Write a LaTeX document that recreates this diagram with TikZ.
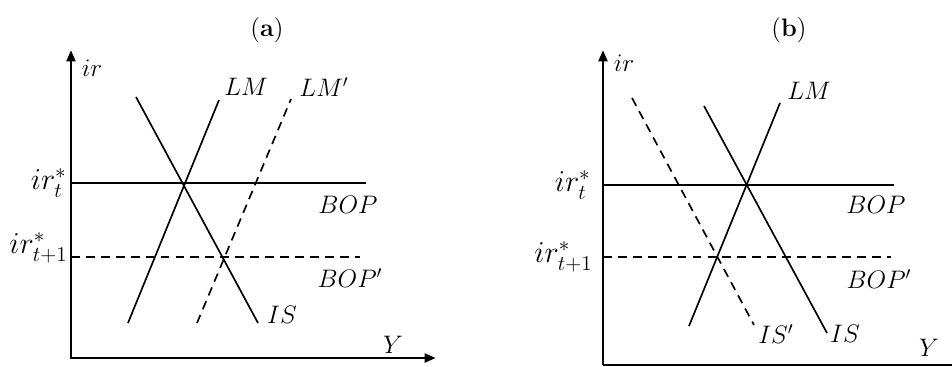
\documentclass[tikz,border=0pt]{standalone}
\usetikzlibrary{arrows.meta, positioning}

\begin{document}
\begin{tikzpicture}[
    x=0.02cm, y=-0.02cm,
    >={Triangle[length=6.5pt,width=5pt]},
    axis/.style={line width=1.6pt},
    curve/.style={line width=0.95pt},
    shifted/.style={curve, dash pattern=on 5pt off 3.5pt},
    lbl/.style={font=\fontsize{14.4}{17}\selectfont, inner sep=0pt},
    level/.style={lbl, font=\fontsize{17.28}{20}\selectfont, anchor=base east},
    title/.style={font=\fontsize{14.4}{17}\selectfont}
]
\useasboundingbox (0,0) rectangle (952,367);

% Panel (a)
\node[title] (ta) at (267,30) {(\textbf{a})};

\coordinate (a0) at (71,358);
\coordinate (ay) at (71,50);
\coordinate (ax) at (436,358);
\draw[axis, <->] (ay) -- (a0) -- (ax);

\coordinate (abop1) at (71,183);
\coordinate (abop2) at (366,183);
\coordinate (abopp1) at (71,257);
\coordinate (abopp2) at (360,257);
\coordinate (ais1) at (136,97);
\coordinate (ais2) at (258,323);
\coordinate (alm1) at (128,323);
\coordinate (alm2) at (219,100);
\coordinate (almp1) at (197,323);
\coordinate (almp2) at (291,99);

\draw[curve] (abop1) -- (abop2);
\draw[shifted] (abopp1) -- (abopp2);
\draw[curve] (ais1) -- (ais2);
\draw[curve] (alm1) -- (alm2);
\draw[shifted] (almp1) -- (almp2);

\node[lbl] (air) at (92,68) {$ir$};
\node[lbl] (ay-l) at (393,345) {$Y$};
\node[level] (airt) at (67,190) {$ir_t^*$};
\node[level] (airt1) at (68,254) {$ir_{t+1}^*$};
\node[lbl] (alm-l) at (246,87) {$LM$};
\node[lbl] (almp-l) at (324,87) {$LM'$};
\node[lbl] (abop-l) at (348,205) {$BOP$};
\node[lbl] (abopp-l) at (350,278) {$BOP'$};
\node[lbl] (ais-l) at (282,315) {$IS$};

% Panel (b)
\node[title] (tb) at (789,30) {(\textbf{b})};

\coordinate (b0) at (603,365);
\coordinate (by) at (603,50);
\coordinate (bx) at (952,365);
\draw[axis, ->] (b0) -- (by);
\draw[axis] (b0) -- (bx);

\coordinate (bbop1) at (603,185);
\coordinate (bbop2) at (894,185);
\coordinate (bbopp1) at (603,257);
\coordinate (bbopp2) at (891,257);
\coordinate (blm1) at (689,326);
\coordinate (blm2) at (780,103);
\coordinate (bis1) at (704,106);
\coordinate (bis2) at (827,333);
\coordinate (bisp1) at (632,98);
\coordinate (bisp2) at (754,325);

\draw[curve] (bbop1) -- (bbop2);
\draw[shifted] (bbopp1) -- (bbopp2);
\draw[curve] (blm1) -- (blm2);
\draw[curve] (bis1) -- (bis2);
\draw[shifted] (bisp1) -- (bisp2);

\node[lbl] (bir) at (624,63) {$ir$};
\node[lbl] (by-l) at (929,348) {$Y$};
\node[level] (birt) at (591,192) {$ir_t^*$};
\node[level] (birt1) at (593,263) {$ir_{t+1}^*$};
\node[lbl] (blm-l) at (809,91) {$LM$};
\node[lbl] (bbop-l) at (876,205) {$BOP$};
\node[lbl] (bbopp-l) at (879,279) {$BOP'$};
\node[lbl] (bisp-l) at (776,334) {$IS'$};
\node[lbl] (bis-l) at (845,334) {$IS$};

\end{tikzpicture}
\end{document}
